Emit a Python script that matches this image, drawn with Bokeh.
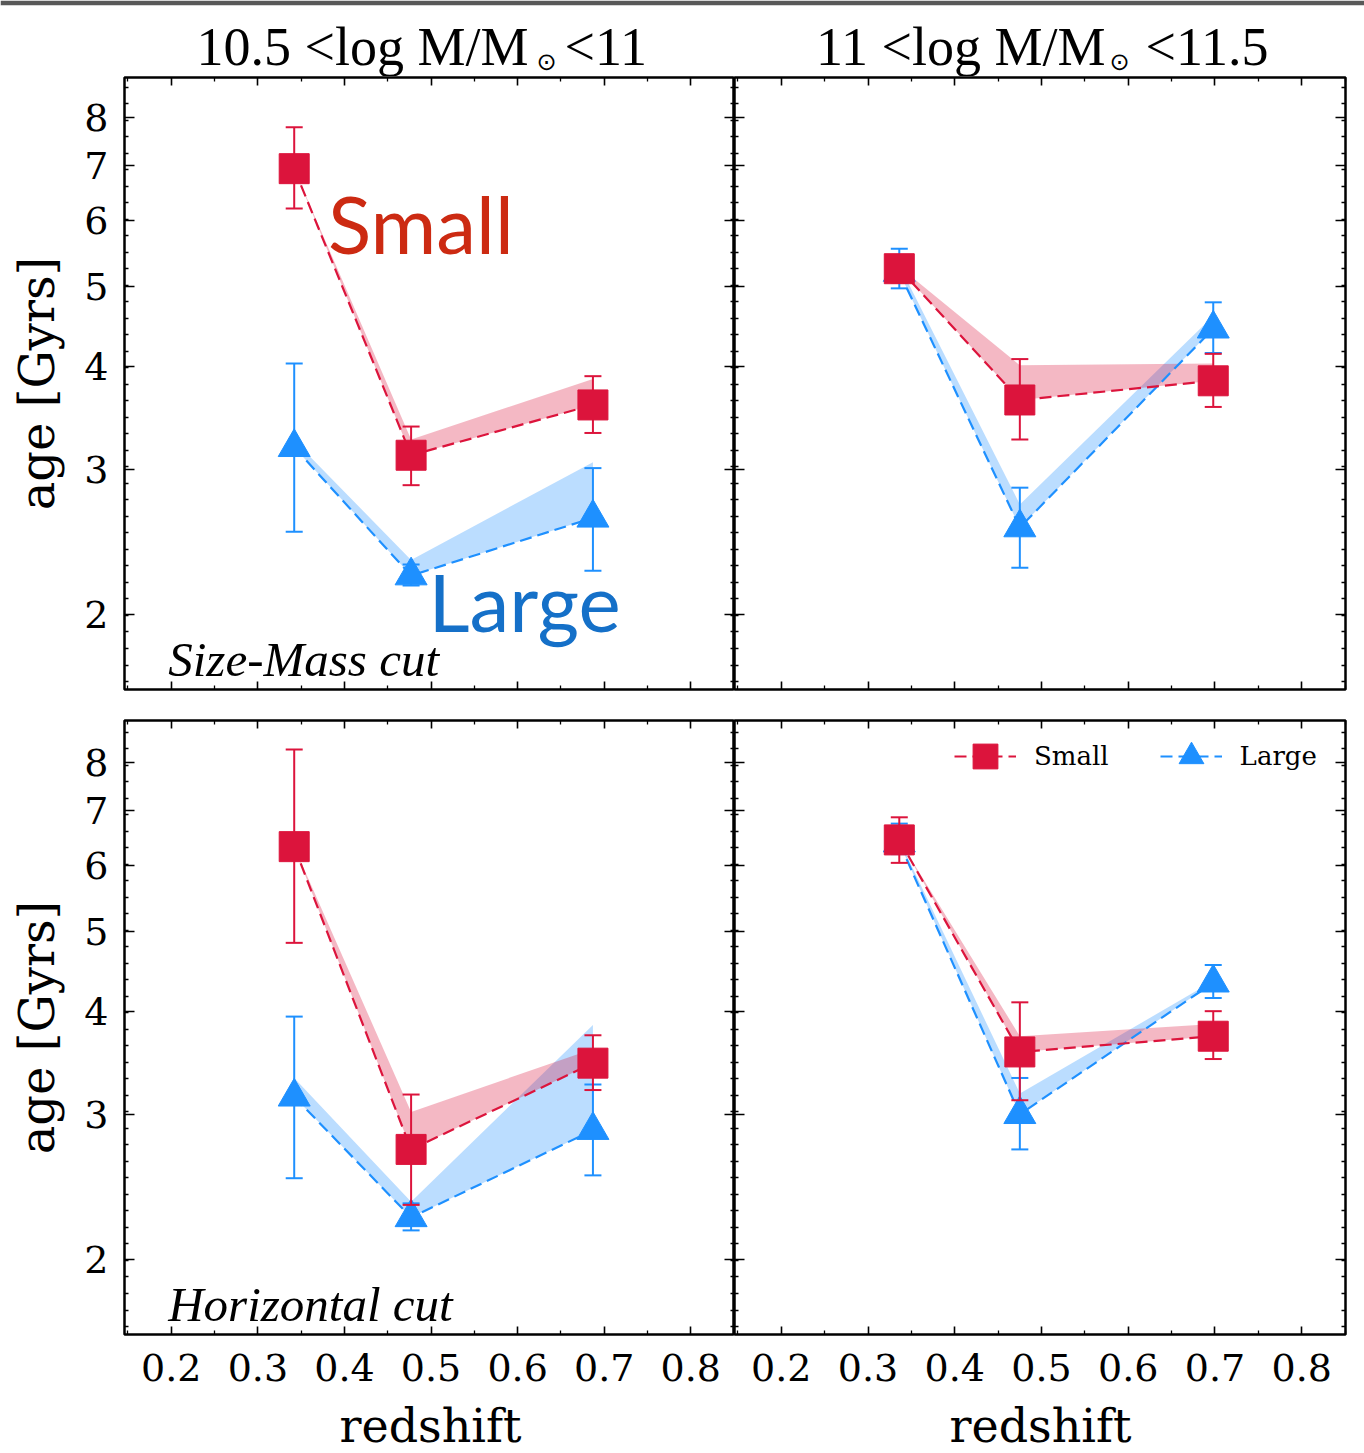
from bokeh.plotting import figure
from bokeh.layouts import column, row
from bokeh.models import (Range1d, FixedTicker, LinearAxis, LogAxis, Label, Legend,
                          LegendItem, CustomJSTickFormatter)
from bokeh.core.properties import value
from bokeh.embed import file_html
from bokeh.resources import INLINE

# ---------------- data ----------------
X_TICKS = [0.2, 0.3, 0.4, 0.5, 0.6, 0.7, 0.8]
X_MINOR = [0.15, 0.25, 0.35, 0.45, 0.55, 0.65, 0.75, 0.85]
Y_TICKS = [2, 3, 4, 5, 6, 7, 8]
Y_MINOR_EXP = [k * 0.02 for k in range(10, 50)]  # log10 positions of minor ticks

TITLE_LEFT = ["10.5 <log M/M", "\u2299", "<11"]
TITLE_RIGHT = ["11 <log M/M", "\u2299", "<11.5"]
X_LABEL = "redshift"
Y_LABEL = "age [Gyrs]"

# top-left: Size-Mass cut, 10.5 < log M < 11
tl_z = [0.342, 0.477, 0.687]
tl_small = [6.94, 3.12, 3.59]
tl_small_hi = [7.79, 3.38, 3.89]
tl_small_lo = [6.21, 2.87, 3.32]
tl_small_band = [6.94, 3.26, 3.86]
tl_large = [3.19, 2.23, 2.62]
tl_large_hi = [4.03, 2.30, 3.01]
tl_large_lo = [2.52, 2.17, 2.26]
tl_large_band = [3.25, 2.33, 3.06]

# top-right: Size-Mass cut, 11 < log M < 11.5
tr_z = [0.336, 0.475, 0.698]
tr_small = [5.25, 3.64, 3.84]
tr_small_hi = [5.45, 4.08, 4.14]
tr_small_lo = [5.05, 3.26, 3.57]
tr_small_band = [5.28, 4.01, 4.03]
tr_large = [5.20, 2.55, 4.44]
tr_large_hi = [5.55, 2.85, 4.78]
tr_large_lo = [4.97, 2.28, 4.15]
tr_large_band = [5.30, 2.72, 4.60]

# bottom-left: Horizontal cut, 10.5 < log M < 11
bl_z = [0.342, 0.477, 0.687]
bl_small = [6.33, 2.72, 3.46]
bl_small_hi = [8.30, 3.17, 3.74]
bl_small_lo = [4.84, 2.33, 3.21]
bl_small_band = [6.33, 3.02, 3.60]
bl_large = [3.15, 2.25, 2.87]
bl_large_hi = [3.94, 2.34, 3.26]
bl_large_lo = [2.51, 2.17, 2.53]
bl_large_band = [3.32, 2.35, 3.85]

# bottom-right: Horizontal cut, 11 < log M < 11.5
br_z = [0.336, 0.475, 0.698]
br_small = [6.45, 3.57, 3.73]
br_small_hi = [6.87, 4.10, 4.00]
br_small_lo = [6.05, 3.12, 3.50]
br_small_band = [6.45, 3.73, 3.86]
br_large = [6.40, 3.00, 4.33]
br_large_hi = [6.75, 3.32, 4.55]
br_large_lo = [6.20, 2.72, 4.15]
br_large_band = [6.45, 3.18, 4.35]

RED = "#DC143C"
BLUE = "#1E90FF"
TXT_RED = "#CC2A12"
TXT_BLUE = "#1570C8"

SERIF = "DejaVu Serif"
TIMES = "Liberation Serif"

y_minor = [10 ** e for e in Y_MINOR_EXP]


def style_axis(ax, show_labels, major_in, minor_in, fmt):
    ax.major_tick_in = major_in
    ax.major_tick_out = 0
    ax.minor_tick_in = minor_in
    ax.minor_tick_out = 0
    ax.axis_line_color = None
    ax.major_tick_line_color = "black"
    ax.major_tick_line_width = 1.6
    ax.minor_tick_line_color = "black"
    ax.minor_tick_line_width = 1.3
    if show_labels:
        ax.formatter = CustomJSTickFormatter(code=fmt)
        ax.major_label_text_font = SERIF
        ax.major_label_text_font_size = "38px"
        ax.major_label_text_color = "black"
    else:
        ax.formatter = CustomJSTickFormatter(code="return ''")
        ax.major_label_text_font_size = "0px"
        ax.major_label_standoff = 0


def panel(col, rowi, z, s, s_hi, s_lo, s_band, l, l_hi, l_lo, l_band):
    left = col == 0
    bottom = rowi == 1
    top_row = rowi == 0
    p = figure(frame_width=610 if left else 611, frame_height=612 if top_row else 614,
               x_range=Range1d(0.146, 0.8505),
               y_range=Range1d(1.623, 8.95 if top_row else 9.0),
               y_axis_type="log", output_backend="svg", toolbar_location=None,
               min_border_left=124 if left else 0,
               min_border_right=0 if left else 17,
               min_border_top=1 if top_row else 15,
               min_border_bottom=16 if top_row else 63,
               background_fill_color="white", border_fill_color="white")
    p.grid.visible = False
    p.outline_line_color = "black"
    p.outline_line_width = 2.5

    xb = p.xaxis[0]
    xb.ticker = FixedTicker(ticks=X_TICKS, minor_ticks=X_MINOR)
    style_axis(xb, bottom, 8, 4, "return tick.toFixed(1)")
    if bottom:
        xb.major_label_standoff = 19

    yl = p.yaxis[0]
    yl.ticker = FixedTicker(ticks=Y_TICKS, minor_ticks=y_minor)
    style_axis(yl, left, 10, 4, "return tick.toFixed(0)")
    if left:
        yl.major_label_standoff = 16
        yl.axis_label = Y_LABEL
        yl.axis_label_text_font = SERIF
        yl.axis_label_text_font_size = "48px"
        yl.axis_label_text_font_style = "normal"
        yl.axis_label_text_color = "black"
        yl.axis_label_standoff = 16

    xa = LinearAxis(ticker=FixedTicker(ticks=X_TICKS, minor_ticks=X_MINOR))
    style_axis(xa, False, 8, 4, "")
    p.add_layout(xa, "above")
    ya = LogAxis(ticker=FixedTicker(ticks=Y_TICKS, minor_ticks=y_minor))
    style_axis(ya, False, 10, 4, "")
    p.add_layout(ya, "right")

    # bands
    p.varea(x=z, y1=l, y2=l_band, fill_color=BLUE, fill_alpha=0.3)
    p.varea(x=z, y1=s, y2=s_band, fill_color=RED, fill_alpha=0.3)
    # dashed lines
    rs = {}
    rs["large_line"] = p.line(z, l, line_color=BLUE, line_width=2.2, line_dash="12 6")
    rs["small_line"] = p.line(z, s, line_color=RED, line_width=2.2, line_dash="12 6")
    # error bars + markers
    for name, v, hi, lo, color, marker, size in [
        ("large", l, l_hi, l_lo, BLUE, "triangle", 32),
        ("small", s, s_hi, s_lo, RED, "square", 30),
    ]:
        p.segment(x0=z, y0=lo, x1=z, y1=hi, line_color=color, line_width=2)
        p.scatter(z, hi, marker="dash", size=17, line_color=color, line_width=2)
        p.scatter(z, lo, marker="dash", size=17, line_color=color, line_width=2)
        rs[name] = p.scatter(z, v, marker=marker, size=size, fill_color=color,
                             line_color=color, line_width=1)
    return p, rs


p1, r1 = panel(0, 0, tl_z, tl_small, tl_small_hi, tl_small_lo, tl_small_band,
               tl_large, tl_large_hi, tl_large_lo, tl_large_band)
p2, r2 = panel(1, 0, tr_z, tr_small, tr_small_hi, tr_small_lo, tr_small_band,
               tr_large, tr_large_hi, tr_large_lo, tr_large_band)
p3, r3 = panel(0, 1, bl_z, bl_small, bl_small_hi, bl_small_lo, bl_small_band,
               bl_large, bl_large_hi, bl_large_lo, bl_large_band)
p4, r4 = panel(1, 1, br_z, br_small, br_small_hi, br_small_lo, br_small_band,
               br_large, br_large_hi, br_large_lo, br_large_band)

# annotations inside panels
p1.add_layout(Label(x=0.381, y=5.97, text="Small", text_font="Lato", text_font_size="80px",
                    text_color=TXT_RED, text_baseline="alphabetic"))
p1.add_layout(Label(x=0.497, y=2.08, text="Large", text_font="Lato", text_font_size="80px",
                    text_color=TXT_BLUE, text_baseline="alphabetic"))
p1.add_layout(Label(x=0.1965, y=1.765, text="Size-Mass cut", text_font=TIMES,
                    text_font_style="italic", text_font_size="49px", text_color="black",
                    text_baseline="alphabetic"))
p3.add_layout(Label(x=0.1965, y=1.765, text="Horizontal cut", text_font=TIMES,
                    text_font_style="italic", text_font_size="49px", text_color="black",
                    text_baseline="alphabetic"))

# legend (bottom-right panel)
legend = Legend(items=[LegendItem(label="Small", renderers=[r4["small_line"], r4["small"]]),
                       LegendItem(label="Large", renderers=[r4["large_line"], r4["large"]])],
                orientation="horizontal", location=(220, 547),
                glyph_width=62, glyph_height=62, label_standoff=18, spacing=51,
                padding=0, margin=0, border_line_color=None, background_fill_alpha=0,
                label_text_font=SERIF, label_text_font_size="26px", label_text_color="black")
p4.add_layout(legend)

# title strip (top), with a dark band on its top edge
strip_top = figure(frame_width=1364, frame_height=71, x_range=Range1d(0, 1364),
                   y_range=Range1d(0, 71), output_backend="svg", toolbar_location=None,
                   min_border_left=0, min_border_right=0, min_border_top=5,
                   min_border_bottom=0, x_axis_location=None, y_axis_location=None,
                   border_fill_color="#585858", background_fill_color="white",
                   outline_line_color=None)
strip_top.grid.visible = False
# main title parts (x in canvas pixels, y measured up from strip bottom at canvas y=76)
strip_top.text(x=[528, 1105], y=[30, 30], text=[TITLE_LEFT[0], TITLE_RIGHT[0]],
               text_align="right", text_baseline="alphabetic", text_font=value(TIMES),
               text_font_size="54px", text_color="black")
strip_top.text(x=[546, 1119], y=[15, 15], text=[TITLE_LEFT[1], TITLE_RIGHT[1]],
               text_align="center", text_baseline="middle", text_font=value("DejaVu Sans"),
               text_font_size="24px", text_color="black")
strip_top.text(x=[564, 1145], y=[30, 30], text=[TITLE_LEFT[2], TITLE_RIGHT[2]],
               text_align="left", text_baseline="alphabetic", text_font=value(TIMES),
               text_font_size="54px", text_color="black")

# x-label strip (bottom)
strip_bot = figure(frame_width=1364, frame_height=56, x_range=Range1d(0, 1364),
                   y_range=Range1d(0, 56), output_backend="svg", toolbar_location=None,
                   min_border_left=0, min_border_right=0, min_border_top=0,
                   min_border_bottom=0, x_axis_location=None, y_axis_location=None,
                   border_fill_color="white", background_fill_color="white",
                   outline_line_color=None)
strip_bot.grid.visible = False
strip_bot.text(x=[430, 1040], y=[28, 28], text=[X_LABEL, X_LABEL], text_align="center",
               text_baseline="middle", text_font=value(SERIF), text_font_size="46px",
               text_color="black")

layout = column(strip_top, row(p1, p2, spacing=0), row(p3, p4, spacing=0), strip_bot,
                spacing=0)

open("out.html", "w").write(file_html(layout, INLINE))
